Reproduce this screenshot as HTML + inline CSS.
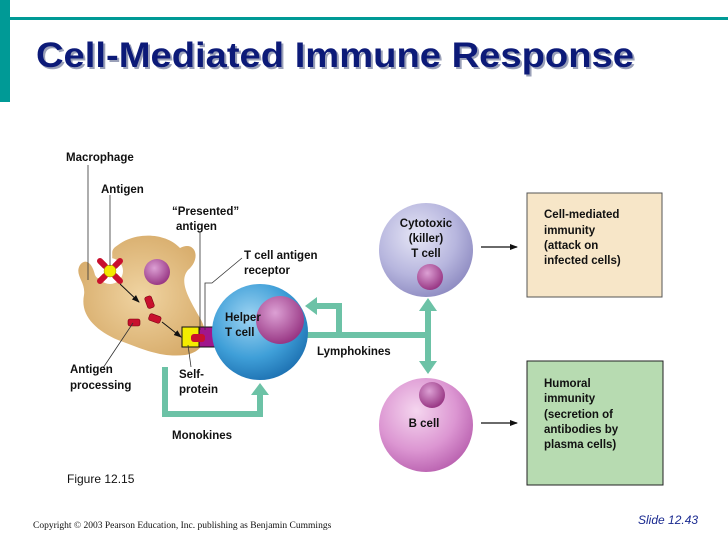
<!DOCTYPE html>
<html><head><meta charset="utf-8"><style>
body{margin:0;background:#fff;}
svg{display:block;font-family:"Liberation Sans",sans-serif;}
.b{font-weight:bold;font-size:11.5px;fill:#111;}
</style></head><body>
<svg width="728" height="546" viewBox="0 0 728 546">
<defs>
<radialGradient id="hg" cx="0.4" cy="0.35" r="0.7"><stop offset="0" stop-color="#9fd4f2"/><stop offset="0.6" stop-color="#3f9fd8"/><stop offset="1" stop-color="#1c6fb0"/></radialGradient>
<radialGradient id="cg" cx="0.4" cy="0.35" r="0.7"><stop offset="0" stop-color="#e6e6f6"/><stop offset="0.6" stop-color="#b7b6de"/><stop offset="1" stop-color="#8c89c0"/></radialGradient>
<radialGradient id="bg" cx="0.4" cy="0.35" r="0.7"><stop offset="0" stop-color="#f5d6ef"/><stop offset="0.6" stop-color="#dc96d2"/><stop offset="1" stop-color="#b85fae"/></radialGradient>
<radialGradient id="ng" cx="0.4" cy="0.35" r="0.7"><stop offset="0" stop-color="#dca0d4"/><stop offset="1" stop-color="#94307f"/></radialGradient>
<radialGradient id="mg" cx="0.5" cy="0.5" r="0.6"><stop offset="0" stop-color="#f0d4a2"/><stop offset="1" stop-color="#d6aa68"/></radialGradient>
<marker id="ah" markerWidth="8" markerHeight="8" refX="7" refY="4" orient="auto" markerUnits="userSpaceOnUse"><path d="M0,1 L8,4 L0,7 Z" fill="#111"/></marker>
</defs>
<rect x="0" y="0" width="10" height="102" fill="#009a96"/>
<rect x="10" y="17" width="718" height="3" fill="#009a96"/>
<text x="38" y="69" font-size="35" font-weight="bold" fill="#9aa0b8" textLength="598" lengthAdjust="spacingAndGlyphs">Cell-Mediated Immune Response</text>
<text x="36" y="67" font-size="35" font-weight="bold" fill="#0c1a78" textLength="598" lengthAdjust="spacingAndGlyphs">Cell-Mediated Immune Response</text>

<!-- macrophage -->
<path d="M118,245 C135,232 165,232 180,248 C195,240 202,258 188,270 C178,282 190,300 200,318 C210,335 205,352 185,355 C160,358 140,348 118,340 C95,330 80,315 84,295 C86,282 74,275 80,265 C85,258 92,262 95,275 C100,285 110,270 112,260 C113,252 110,250 118,245 Z" fill="url(#mg)"/>
<circle cx="110" cy="271" r="13" fill="#fff"/>
<circle cx="157" cy="272" r="13" fill="url(#ng)"/>
<g stroke="#c8102e" stroke-width="6" stroke-linecap="round">
<line x1="100" y1="261" x2="105" y2="266"/>
<line x1="120" y1="261" x2="115" y2="266"/>
<line x1="100" y1="281" x2="105" y2="276"/>
<line x1="120" y1="281" x2="115" y2="276"/>
</g>
<g fill="#c8102e" stroke="#7a0010" stroke-width="0.6">
<rect x="146" y="296" width="7" height="12" rx="2" transform="rotate(-20 150 302)"/>
<rect x="128" y="319" width="12" height="7" rx="2"/>
<rect x="149" y="315" width="12" height="7" rx="2" transform="rotate(20 155 318)"/>
</g>
<circle cx="110" cy="271" r="6" fill="#f4e800" stroke="#a09000" stroke-width="0.5"/>
<line x1="120" y1="284" x2="139" y2="302" stroke="#111" stroke-width="1" marker-end="url(#ah)"/>
<line x1="162" y1="322" x2="181" y2="337" stroke="#111" stroke-width="1" marker-end="url(#ah)"/>
<rect x="182" y="327" width="17" height="20" fill="#f4ec00" stroke="#111" stroke-width="1"/>
<rect x="199" y="327" width="16" height="20" fill="#a0168c" stroke="#111" stroke-width="1"/>
<rect x="191" y="334" width="14" height="8" rx="3" fill="#c8102e"/>

<!-- label lines -->
<g stroke="#333" stroke-width="0.8" fill="none">
<line x1="88" y1="165" x2="88" y2="280"/>
<line x1="110" y1="195" x2="110" y2="266"/>
<line x1="200" y1="232" x2="200" y2="330"/>
<path d="M205,330 L205,283 L212,283 L242,258"/>
<line x1="188" y1="345" x2="191" y2="367"/>
<line x1="103" y1="368" x2="133" y2="323"/>
</g>

<!-- teal arrows -->
<g fill="none" stroke="#6cc2a6" stroke-width="6">
<path d="M307,335 L428,335"/>
<path d="M428,310 L428,362"/>
<path d="M339,335 L339,306 L316,306"/>
<path d="M165,367 L165,414 L260,414 L260,393"/>
</g>
<g fill="#6cc2a6">
<path d="M305,306 L317,297 L317,315 Z"/>
<path d="M428,298 L419,311 L437,311 Z"/>
<path d="M428,374 L419,361 L437,361 Z"/>
<path d="M260,383 L251,395 L269,395 Z"/>
</g>

<!-- cells -->
<circle cx="260" cy="332" r="48" fill="url(#hg)"/>
<circle cx="280" cy="320" r="24" fill="url(#ng)"/>
<circle cx="426" cy="250" r="47" fill="url(#cg)"/>
<circle cx="430" cy="277" r="13" fill="url(#ng)"/>
<circle cx="426" cy="425" r="47" fill="url(#bg)"/>
<circle cx="432" cy="395" r="13" fill="url(#ng)"/>

<line x1="481" y1="247" x2="517" y2="247" stroke="#111" stroke-width="1.2" marker-end="url(#ah)"/>
<line x1="481" y1="423" x2="517" y2="423" stroke="#111" stroke-width="1.2" marker-end="url(#ah)"/>

<rect x="527" y="193" width="135" height="104" fill="#f7e6c8" stroke="#555" stroke-width="1"/>
<rect x="527" y="361" width="136" height="124" fill="#b7dbb1" stroke="#222" stroke-width="1"/>

<text class="b" x="66" y="161">Macrophage</text>
<text class="b" x="101" y="193">Antigen</text>
<text class="b" x="172" y="215">“Presented”</text>
<text class="b" x="176" y="230">antigen</text>
<text class="b" x="244" y="259">T cell antigen</text>
<text class="b" x="244" y="274">receptor</text>
<text class="b" x="225" y="321">Helper</text>
<text class="b" x="225" y="336">T cell</text>
<text class="b" x="70" y="373">Antigen</text>
<text class="b" x="70" y="389">processing</text>
<text class="b" x="179" y="378">Self-</text>
<text class="b" x="179" y="393">protein</text>
<text class="b" x="317" y="355">Lymphokines</text>
<text class="b" x="172" y="439">Monokines</text>
<text class="b" x="426" y="227" text-anchor="middle">Cytotoxic</text>
<text class="b" x="426" y="242" text-anchor="middle">(killer)</text>
<text class="b" x="426" y="257" text-anchor="middle">T cell</text>
<text class="b" x="424" y="427" text-anchor="middle">B cell</text>
<text class="b" x="544" y="218">Cell-mediated</text>
<text class="b" x="544" y="234">immunity</text>
<text class="b" x="544" y="249">(attack on</text>
<text class="b" x="544" y="264">infected cells)</text>
<text class="b" x="544" y="387">Humoral</text>
<text class="b" x="544" y="402">immunity</text>
<text class="b" x="544" y="418">(secretion of</text>
<text class="b" x="544" y="433">antibodies by</text>
<text class="b" x="544" y="448">plasma cells)</text>
<text x="67" y="483" font-size="12" fill="#111">Figure 12.15</text>
<text x="33" y="528" font-size="9.5" fill="#111" font-family="Liberation Serif,serif">Copyright © 2003 Pearson Education, Inc. publishing as Benjamin Cummings</text>
<text x="638" y="524" font-size="12" font-style="italic" fill="#1a2a90">Slide 12.43</text>
</svg>
</body></html>
